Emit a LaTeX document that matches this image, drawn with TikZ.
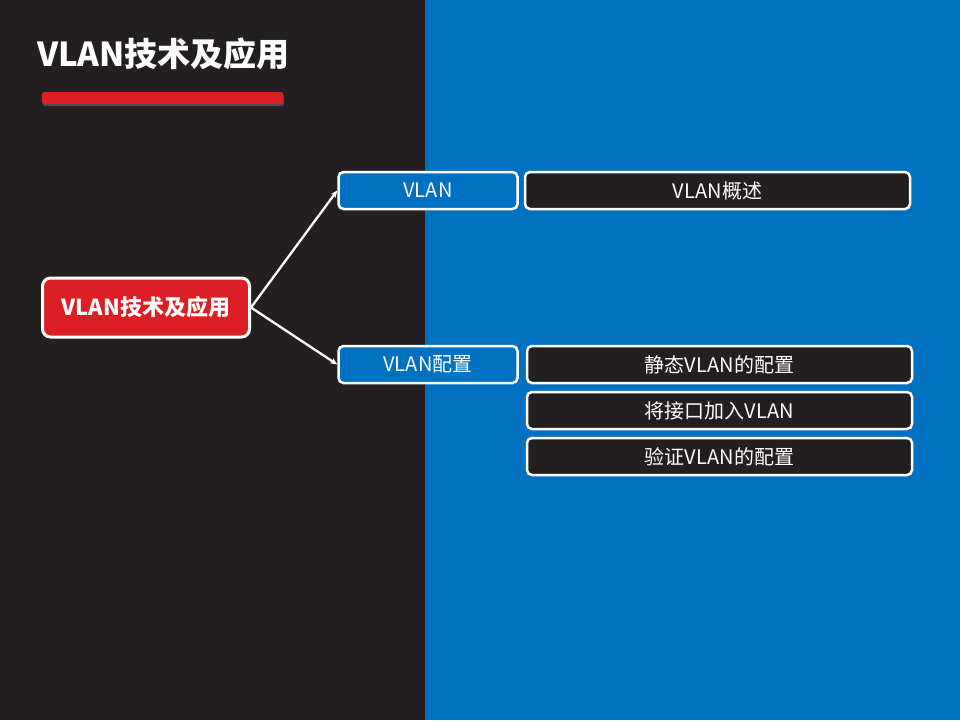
\documentclass[tikz,border=0pt]{standalone}
\usepackage{fontspec}
\setmainfont{Noto Sans CJK SC}
\usetikzlibrary{positioning,arrows.meta,shadows}
\definecolor{darkbg}{HTML}{231F20}
\definecolor{slideblue}{HTML}{0070C0}
\definecolor{slidered}{HTML}{DC1E25}

\begin{document}
\begin{tikzpicture}[x=1pt,y=-1pt,
topic/.style={draw=white, line width=3pt, rounded corners=8pt, fill=slidered,
    text=white, font=\bfseries\fontsize{22}{26}\selectfont,
    minimum width=207pt, minimum height=59pt},
chapter/.style={draw=white, line width=2.5pt, rounded corners=5pt, fill=slideblue,
    text=white, font=\fontsize{20}{24}\selectfont,
    minimum width=179pt, minimum height=37pt},
section/.style={chapter, fill=darkbg, minimum width=385pt},
link/.style={draw=white, line width=2.3pt, -{Stealth[length=7pt,width=6pt]}}]
\useasboundingbox (0,0) rectangle (960,720);
\fill[darkbg] (0,0) rectangle (425,720);
\fill[slideblue] (425,0) rectangle (960,720);
% title and bar
\node[anchor=west, text=white, font=\bfseries\fontsize{33}{38}\selectfont, inner sep=0pt]
  (title) at (37,54) {VLAN技术及应用};
\fill[slidered, rounded corners=2pt, drop shadow={shadow xshift=1pt, shadow yshift=-2pt, opacity=0.45}]
  (42,92) rectangle (283,104);
% mind map
\node[topic] (root) at (146,307.5) {VLAN技术及应用};
\node[chapter] (vlan) at (428,190.5) {VLAN};
\node[section, right=5pt of vlan] (vlanintro) {VLAN概述};
\node[chapter] (vlancfg) at (428,364.5) {VLAN配置};
\node[section, right=7pt of vlancfg] (static) {静态VLAN的配置};
\node[section, below=6.5pt of static] (addport) {将接口加入VLAN};
\node[section, below=6.5pt of addport] (verify) {验证VLAN的配置};
\draw[link] (root.east) -- (vlan.west);
\draw[link] (root.east) -- (vlancfg.west);
\end{tikzpicture}
\end{document}
